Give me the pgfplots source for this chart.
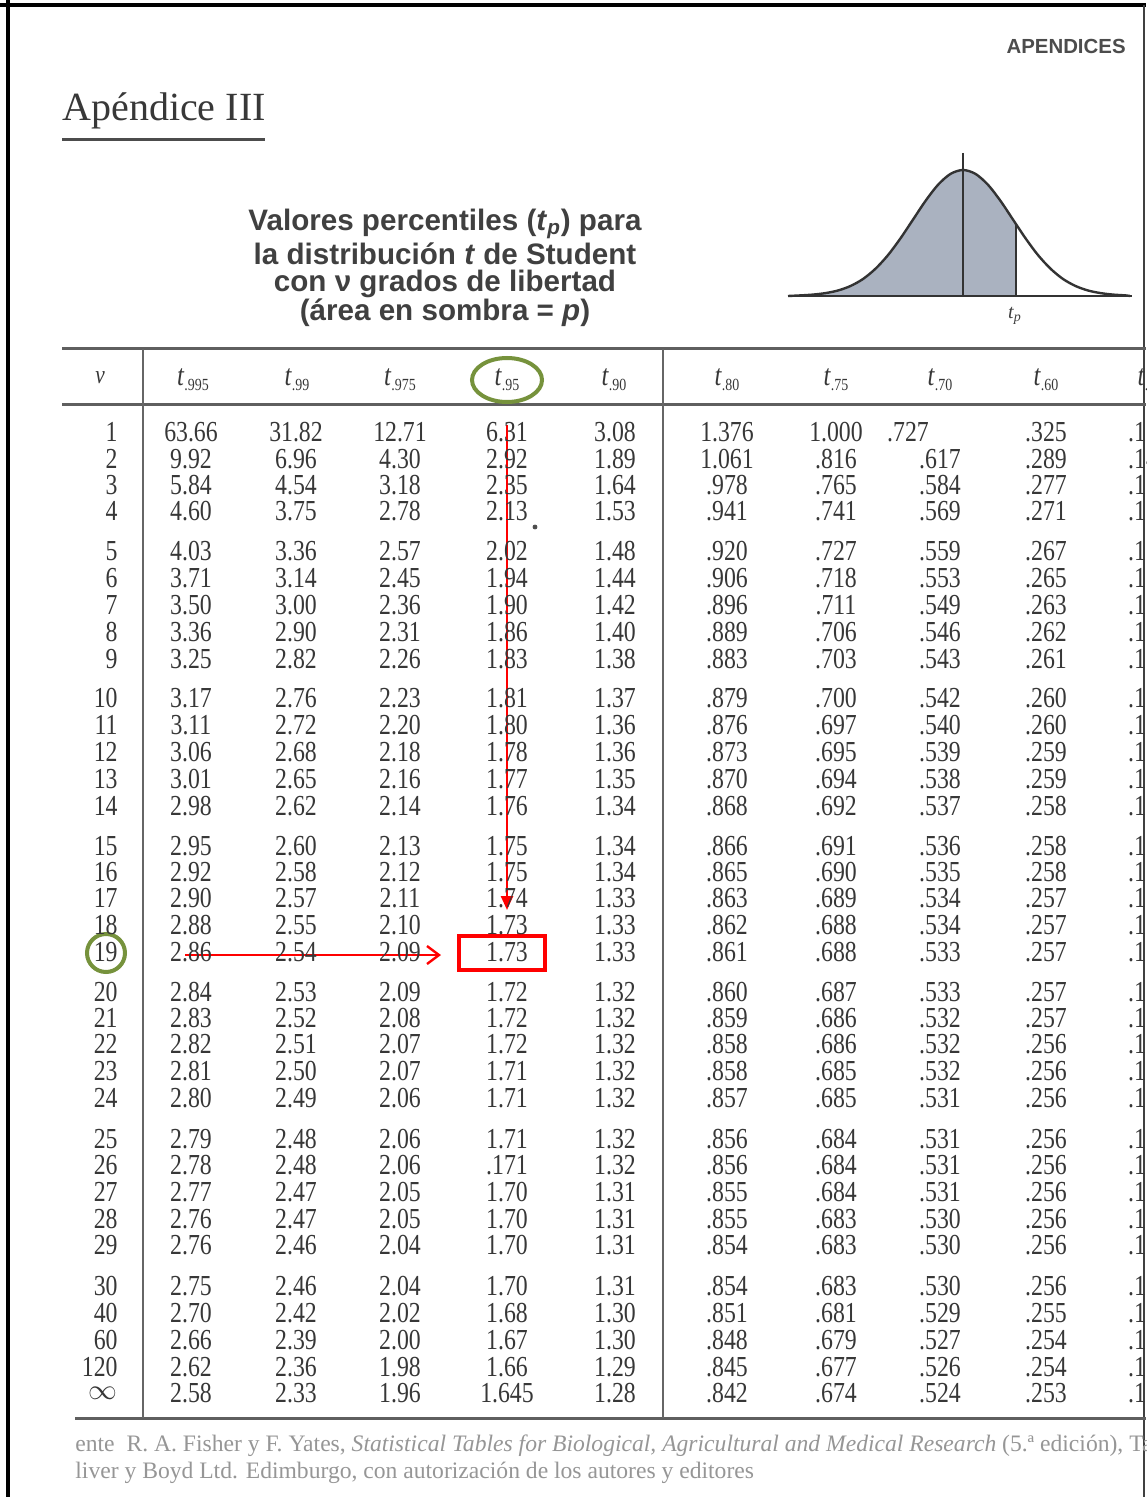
\documentclass[border=0pt]{standalone}
\usepackage{pgfplots}
\pgfplotsset{compat=1.18}
\usepackage{pgfplotstable}
\usepackage{fontspec}
\usetikzlibrary{arrows.meta}
\setmainfont{Liberation Serif}
\newfontfamily\numfont[FakeStretch=0.82]{Liberation Serif}
\newfontfamily\sansfont{Liberation Sans}
\newcommand\datafont{\numfont\fontsize{14.5}{16}\selectfont}
\definecolor{numcol}{RGB}{55,55,55}
\definecolor{olivec}{RGB}{118,146,60}
\definecolor{shade}{RGB}{170,178,192}
\definecolor{rulecol}{RGB}{95,95,95}
\definecolor{footcol}{RGB}{150,150,150}

\pgfplotstableread{
y    nu   a     b     c     d     e    f     g     h    i    j
432  1    63.66 31.82 12.71 6.31  3.08 1.376 1.000 .727 .325 .158
459  2    9.92  6.96  4.30  2.92  1.89 1.061 .816  .617 .289 .142
485  3    5.84  4.54  3.18  2.35  1.64 .978  .765  .584 .277 .137
511  4    4.60  3.75  2.78  2.13  1.53 .941  .741  .569 .271 .134
551  5    4.03  3.36  2.57  2.02  1.48 .920  .727  .559 .267 .132
578  6    3.71  3.14  2.45  1.94  1.44 .906  .718  .553 .265 .131
605  7    3.50  3.00  2.36  1.90  1.42 .896  .711  .549 .263 .130
632  8    3.36  2.90  2.31  1.86  1.40 .889  .706  .546 .262 .130
659  9    3.25  2.82  2.26  1.83  1.38 .883  .703  .543 .261 .129
698  10   3.17  2.76  2.23  1.81  1.37 .879  .700  .542 .260 .129
725  11   3.11  2.72  2.20  1.80  1.36 .876  .697  .540 .260 .129
752  12   3.06  2.68  2.18  1.78  1.36 .873  .695  .539 .259 .128
779  13   3.01  2.65  2.16  1.77  1.35 .870  .694  .538 .259 .128
806  14   2.98  2.62  2.14  1.76  1.34 .868  .692  .537 .258 .128
846  15   2.95  2.60  2.13  1.75  1.34 .866  .691  .536 .258 .128
872  16   2.92  2.58  2.12  1.75  1.34 .865  .690  .535 .258 .128
898  17   2.90  2.57  2.11  1.74  1.33 .863  .689  .534 .257 .128
925  18   2.88  2.55  2.10  1.73  1.33 .862  .688  .534 .257 .127
952  19   2.86  2.54  2.09  1.73  1.33 .861  .688  .533 .257 .127
992  20   2.84  2.53  2.09  1.72  1.32 .860  .687  .533 .257 .127
1018 21   2.83  2.52  2.08  1.72  1.32 .859  .686  .532 .257 .127
1044 22   2.82  2.51  2.07  1.72  1.32 .858  .686  .532 .256 .127
1071 23   2.81  2.50  2.07  1.71  1.32 .858  .685  .532 .256 .127
1098 24   2.80  2.49  2.06  1.71  1.32 .857  .685  .531 .256 .127
1139 25   2.79  2.48  2.06  1.71  1.32 .856  .684  .531 .256 .127
1165 26   2.78  2.48  2.06  .171  1.32 .856  .684  .531 .256 .127
1192 27   2.77  2.47  2.05  1.70  1.31 .855  .684  .531 .256 .127
1219 28   2.76  2.47  2.05  1.70  1.31 .855  .683  .530 .256 .127
1245 29   2.76  2.46  2.04  1.70  1.31 .854  .683  .530 .256 .127
1286 30   2.75  2.46  2.04  1.70  1.31 .854  .683  .530 .256 .127
1313 40   2.70  2.42  2.02  1.68  1.30 .851  .681  .529 .255 .126
1340 60   2.66  2.39  2.00  1.67  1.30 .848  .679  .527 .254 .126
1367 120  2.62  2.36  1.98  1.66  1.29 .845  .677  .526 .254 .126
1393 {$\infty$} 2.58 2.33 1.96 1.645 1.28 .842 .674 .524 .253 .126
}\tdata

\pgfplotsset{
  tcol/.style={only marks, mark=none, nodes near coords, point meta=explicit symbolic,
    every node near coord/.append style={anchor=center, font=\datafont, text=numcol, inner sep=0pt}},
}
\newcommand\hdr[1]{{\numfont\fontsize{15}{16}\selectfont\textit{t}\raisebox{-2.5pt}{\fontsize{8.5}{9}\selectfont #1}}}

\begin{document}
\begin{tikzpicture}
\useasboundingbox (0,0) rectangle (573pt,748.5pt);
\clip (0,0) rectangle (573pt,748.5pt);
\fill[white] (0,0) rectangle (573pt,748.5pt);
\begin{axis}[at={(0,0)}, anchor=south west, scale only axis, width=573pt, height=748.5pt,
  xmin=0, xmax=1146, ymin=0, ymax=1497, y dir=reverse, hide axis, clip=false]

% frame
\draw[black, line width=2pt] (axis cs:8,0) -- (axis cs:8,1497);
\draw[black, line width=1.6pt] (axis cs:0,5) -- (axis cs:1146,5);
\draw[black!75, line width=0.8pt] (axis cs:1144,5) -- (axis cs:1144,1497);

% headings
\node[anchor=east, inner sep=0pt, font=\sansfont\bfseries\fontsize{10.2}{11}\selectfont, text=black!70] at (axis cs:1126,46) {APENDICES};
\node[anchor=base west, font=\fontsize{20}{22}\selectfont, text=black!78, inner sep=0pt] at (axis cs:62,121) {Apéndice III};
\draw[black!70, line width=1.5pt] (axis cs:62,140) -- (axis cs:265,140);

\begin{scope}[every node/.style={font=\sansfont\bfseries\fontsize{14.8}{16}\selectfont, text=black!75}]
\node at (axis cs:445,224) {Valores percentiles (\textit{t}\textsubscript{\textit{p}}) para};
\node at (axis cs:445,254) {la distribución \textit{t} de Student};
\node at (axis cs:445,284) {con ν grados de libertad};
\node at (axis cs:445,313) {(área en sombra = \textit{p})};
\end{scope}

% curve
\addplot[fill=shade, draw=none] coordinates {
(790,296) (800.5,295.4) (813,294.6) (825.5,293.1) (838,290.5) (850.5,286.0) (863,279.0)
(875.5,268.7) (888,255.1) (900.5,238.3) (913,219.6) (925.5,200.9) (938,184.8) (950.5,173.9)
(963,170) (975.5,173.9) (988,184.8) (1000.5,200.9) (1013,219.6) (1016,224.3) (1016,296)};
\addplot[black!80, line width=1.2pt, smooth] coordinates {
(788,296) (800.5,295.4) (813,294.6) (825.5,293.1) (838,290.5) (850.5,286.0) (863,279.0)
(875.5,268.7) (888,255.1) (900.5,238.3) (913,219.6) (925.5,200.9) (938,184.8) (950.5,173.9)
(963,170) (975.5,173.9) (988,184.8) (1000.5,200.9) (1013,219.6) (1025.5,238.3) (1038,255.1)
(1050.5,268.7) (1063,279.0) (1075.5,286.0) (1088,290.5) (1100.5,293.1) (1113,294.6)
(1125.5,295.4) (1130,296)};
\addplot[black!80, line width=1.2pt] coordinates {(788,296) (1132,296)};
\addplot[black!80, line width=0.6pt] coordinates {(963,153) (963,296)};
\addplot[black!80, line width=0.9pt] coordinates {(1016,223.5) (1016,296)};
\node[font=\fontsize{10}{11}\selectfont, text=black!75] at (axis cs:1015,316) {\textit{t}\textsubscript{\textit{p}}};

% table rules
\draw[rulecol, line width=1.5pt] (axis cs:62,349) -- (axis cs:1146,349);
\draw[rulecol, line width=1.5pt] (axis cs:62,405) -- (axis cs:1146,405);
\draw[rulecol, line width=1.5pt] (axis cs:75,1418) -- (axis cs:1146,1418);
\draw[black!60, line width=0.8pt] (axis cs:143,349) -- (axis cs:143,1418);
\draw[black!60, line width=0.8pt] (axis cs:663,349) -- (axis cs:663,1418);

% header
\node[font=\numfont\fontsize{13}{14}\selectfont\itshape, text=numcol] at (axis cs:100,378) {ν};
\node[text=numcol] at (axis cs:193,380) {\hdr{.995}};
\node[text=numcol] at (axis cs:297,380) {\hdr{.99}};
\node[text=numcol] at (axis cs:400,380) {\hdr{.975}};
\node[text=numcol] at (axis cs:507,380) {\hdr{.95}};
\node[text=numcol] at (axis cs:614,380) {\hdr{.90}};
\node[text=numcol] at (axis cs:727,380) {\hdr{.80}};
\node[text=numcol] at (axis cs:836,380) {\hdr{.75}};
\node[text=numcol] at (axis cs:940,380) {\hdr{.70}};
\node[text=numcol] at (axis cs:1046,380) {\hdr{.60}};
\node[text=numcol] at (axis cs:1150,380) {\hdr{.55}};

% data columns
\addplot[tcol, every node near coord/.append style={anchor=east}] table[x expr=118, y=y, meta=nu] {\tdata};
\addplot[tcol] table[x expr=191, y=y, meta=a] {\tdata};
\addplot[tcol] table[x expr=296, y=y, meta=b] {\tdata};
\addplot[tcol] table[x expr=400, y=y, meta=c] {\tdata};
\addplot[tcol] table[x expr=507, y=y, meta=d] {\tdata};
\addplot[tcol] table[x expr=615, y=y, meta=e] {\tdata};
\addplot[tcol] table[x expr=727, y=y, meta=f] {\tdata};
\addplot[tcol] table[x expr=836, y=y, meta=g] {\tdata};
\addplot[tcol] table[x expr={ifthenelse(\thisrow{y}<440,908,940)}, y=y, meta=h] {\tdata};
\addplot[tcol] table[x expr=1046, y=y, meta=i] {\tdata};
\addplot[tcol] table[x expr=1149, y=y, meta=j] {\tdata};
\addplot[only marks, mark=*, mark size=1pt, black!70] coordinates {(535,527)};

% footer
\node[anchor=base west, font=\fontsize{11.8}{12}\selectfont, text=footcol, inner sep=0pt] at (axis cs:75,1451)
  {ente \ R. A. Fisher y F. Yates, \textit{Statistical Tables for Biological, Agricultural and Medical Research} (5.ª edición), Tabla III, Oliver};
\node[anchor=base west, font=\fontsize{11.8}{12}\selectfont, text=footcol, inner sep=0pt] at (axis cs:75,1478)
  {liver y Boyd Ltd. Edimburgo, con autorización de los autores y editores};

% annotations
\draw[olivec, line width=2pt] (axis cs:507,380) ellipse [x radius=17.5pt, y radius=11pt];
\draw[olivec, line width=2pt] (axis cs:106,953) circle [radius=9.5pt];
\draw[red, line width=1.2pt, -{Triangle[length=7pt,width=6pt]}] (axis cs:507,425) -- (axis cs:507,910);
\draw[red, line width=1.2pt, -{Straight Barb[length=6pt,width=9pt]}] (axis cs:185,955) -- (axis cs:441,955);
\draw[red, line width=2pt] (axis cs:459,936) rectangle (axis cs:545,970);
\end{axis}
\end{tikzpicture}
\end{document}
